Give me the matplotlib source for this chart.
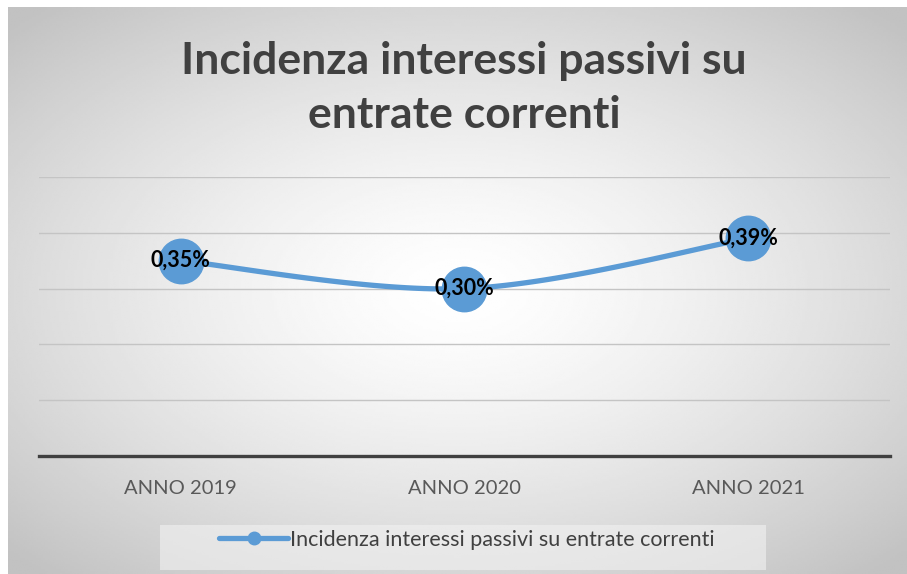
import matplotlib

matplotlib.use("Agg")
import matplotlib.pyplot as plt
import numpy as np
from matplotlib.lines import Line2D
from matplotlib.patches import Rectangle

plt.rcParams["font.family"] = ["Lato", "DejaVu Sans"]

# data
categories = ["ANNO 2019", "ANNO 2020", "ANNO 2021"]
values = [0.35, 0.30, 0.39]  # percent
series_name = "Incidenza interessi passivi su entrate correnti"
title = "Incidenza interessi passivi su\nentrate correnti"

BLUE = "#5b9bd5"
W, H = 907, 574


def smooth(xs, ys, n=60):
    """Bezier smoothing like office charts (tension 1/6)."""
    xs = np.asarray(xs, float)
    ys = np.asarray(ys, float)
    px = np.concatenate([[xs[0]], xs, [xs[-1]]])
    py = np.concatenate([[ys[0]], ys, [ys[-1]]])
    outx, outy = [], []
    t = np.linspace(0, 1, n)
    for i in range(1, len(px) - 2):
        p0 = np.array([px[i], py[i]])
        p3 = np.array([px[i + 1], py[i + 1]])
        c1 = p0 + (np.array([px[i + 1], py[i + 1]]) - np.array([px[i - 1], py[i - 1]])) / 6
        c2 = p3 - (np.array([px[i + 2], py[i + 2]]) - np.array([px[i], py[i]])) / 6
        b = ((1 - t) ** 3)[:, None] * p0 + (3 * (1 - t) ** 2 * t)[:, None] * c1 \
            + (3 * (1 - t) * t ** 2)[:, None] * c2 + (t ** 3)[:, None] * p3
        outx.extend(b[:, 0])
        outy.extend(b[:, 1])
    return np.array(outx), np.array(outy)


fig = plt.figure(figsize=(W / 100, H / 100), dpi=100, facecolor="white")

# radial gradient background
bg = fig.add_axes([8 / W, 0, 1 - 8 / W, 1 - 7 / H], zorder=0)
gx, gy = np.meshgrid(np.linspace(-1, 1, 400), np.linspace(-1, 1, 260))
r = np.sqrt(gx ** 2 + (gy * 1.05) ** 2)
r = np.clip(r / 1.4, 0, 1)
shade = 1.0 - 0.24 * r ** 1.4
bg.imshow(shade, cmap="gray", vmin=0, vmax=1, aspect="auto", extent=[0, 1, 0, 1],
          interpolation="bilinear")
bg.set_xlim(0, 1)
bg.set_ylim(0, 1)
bg.set_axis_off()

# legend box
bg.add_patch(Rectangle(((160 - 8) / W * W / (W - 8), 1 - 563 / (H - 7)),
                       (766 - 160) / (W - 8), 45 / (H - 7),
                       facecolor="#f2f2f2", alpha=0.6, edgecolor="none", zorder=2))

ax = fig.add_axes([39 / W, 1 - 456 / H, (890 - 39) / W, (456 - 177) / H], zorder=1)
ax.patch.set_alpha(0)
x = np.arange(len(categories))
ax.set_xlim(-0.5, len(categories) - 0.5)
ax.set_ylim(0, 0.5)
ax.set_yticks(np.arange(0, 0.51, 0.1))
ax.yaxis.grid(True, color="#c4c4c4", linewidth=1.0)
ax.set_axisbelow(True)
for s in ["top", "right", "left"]:
    ax.spines[s].set_visible(False)
ax.spines["bottom"].set_color("#404040")
ax.spines["bottom"].set_linewidth(2.4)
ax.tick_params(axis="y", left=False, labelleft=False)
ax.tick_params(axis="x", length=0, pad=17, labelsize=14.5, labelcolor="#595959")
ax.set_xticks(x)
ax.set_xticklabels(categories)

sx, sy = smooth(x, values)
ax.plot(sx, sy, color=BLUE, linewidth=3.8, solid_capstyle="round", zorder=3)
ax.plot(x, values, "o", color=BLUE, markersize=32, zorder=4)
for xi, v in zip(x, values):
    ax.text(xi, v, f"{v:.2f}%".replace(".", ","), ha="center", va="center",
            fontsize=15.5, fontweight="bold", color="black", zorder=5)

fig.text(464 / W, 1 - 88 / H, title, ha="center", va="center", fontsize=32,
         fontweight="bold", color="#404040", linespacing=1.4)

# legend
handle = Line2D([], [], color=BLUE, linewidth=3.8, marker="o", markersize=9,
                solid_capstyle="round")
leg = fig.legend([handle], [series_name], loc="center",
                 bbox_to_anchor=(467 / W, 1 - 540 / H), frameon=False,
                 fontsize=15.5, handlelength=3.2, handletextpad=0.1,
                 borderaxespad=0)
for t in leg.get_texts():
    t.set_color("#404040")

fig.savefig("out.png", dpi=100, facecolor="white")
